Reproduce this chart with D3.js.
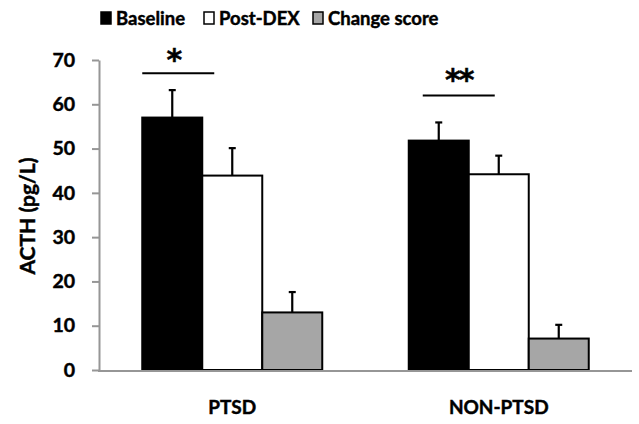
<!DOCTYPE html>
<html>
<head>
<meta charset="utf-8">
<script src="https://cdn.jsdelivr.net/npm/d3@7"></script>
<style>
  html, body { margin: 0; padding: 0; background: #fff; }
  svg { display: block; font-family: Lato, "Open Sans", sans-serif; font-weight: bold; }
  svg text { stroke: #000; stroke-width: 0.45px; }
</style>
</head>
<body>
<svg id="chart" width="639" height="424"></svg>
<script>
// ACTH before and after dexamethasone, by group
const groups = ["PTSD", "NON-PTSD"];
const seriesNames = ["Baseline", "Post-DEX", "Change score"];
const seriesColors = ["#000000", "#ffffff", "#a6a6a6"];
const baseline = [57.0, 51.8];
const postDex = [43.9, 44.2];
const changeScore = [13.0, 7.1];
const baselineErr = [6.2, 4.1];
const postDexErr = [6.2, 4.2];
const changeErr = [4.6, 3.1];
const yTicks = [0, 10, 20, 30, 40, 50, 60, 70];
// Significance brackets between baseline and post-DEX
const sigLevels = [67.0, 62.0];
const sigLabels = ["*", "**"];

const values = [baseline, postDex, changeScore];
const errors = [baselineErr, postDexErr, changeErr];

const svg = d3.select("#chart");
const plotLeft = 99, plotRight = 632, plotTop = 60, plotBottom = 370;

const x0 = d3.scaleBand().domain(groups).range([plotLeft, plotRight]).paddingInner(0).paddingOuter(0);
const x1 = d3.scaleBand().domain(seriesNames).range([0, 180]).padding(0);
const y = d3.scaleLinear().domain([0, 70]).range([plotBottom, plotTop]);

const groupStart = g => x0(g) + (x0.bandwidth() - 180) / 2;

// y axis
const yAxis = svg.append("g")
  .attr("transform", `translate(${plotLeft},0)`)
  .call(d3.axisLeft(y).tickValues(yTicks).tickSize(7).tickPadding(17).tickSizeOuter(0));
yAxis.select(".domain").attr("stroke", "#969696").attr("stroke-width", 2);
yAxis.selectAll(".tick line").attr("stroke", "#969696").attr("stroke-width", 2);
yAxis.selectAll(".tick text")
  .attr("fill", "#000").attr("font-size", 19.5).attr("font-weight", "bold")
  .attr("font-family", "Lato, sans-serif");

// bars
const barData = [];
groups.forEach((g, gi) => {
  seriesNames.forEach((s, si) => {
    barData.push({ g, s, si, v: values[si][gi], e: errors[si][gi] });
  });
});

svg.append("g").selectAll("rect").data(barData).join("rect")
  .attr("x", d => groupStart(d.g) + x1(d.s))
  .attr("y", d => y(d.v))
  .attr("width", x1.bandwidth())
  .attr("height", d => y(0) - y(d.v))
  .attr("fill", d => seriesColors[d.si])
  .attr("stroke", "#000")
  .attr("stroke-width", 2);

// error bars (upper only)
const eb = svg.append("g").attr("stroke", "#000").attr("stroke-width", 2.2);
barData.forEach(d => {
  const cx = groupStart(d.g) + x1(d.s) + x1.bandwidth() / 2;
  eb.append("line").attr("x1", cx).attr("x2", cx).attr("y1", y(d.v)).attr("y2", y(d.v + d.e));
  eb.append("line").attr("x1", cx - 3.5).attr("x2", cx + 3.5).attr("y1", y(d.v + d.e)).attr("y2", y(d.v + d.e));
});

// x axis
svg.append("line")
  .attr("x1", plotLeft - 1).attr("x2", plotRight)
  .attr("y1", plotBottom + 1).attr("y2", plotBottom + 1)
  .attr("stroke", "#969696").attr("stroke-width", 2);

svg.append("g").selectAll("text").data(groups).join("text")
  .attr("x", g => x0(g) + x0.bandwidth() / 2)
  .attr("y", 414)
  .attr("text-anchor", "middle")
  .attr("font-size", 19)
  .text(g => g);

// significance brackets
const sigOffsets = [[0, 72], [14, 86]];
const starRaise = [-3, -5];
groups.forEach((g, gi) => {
  const xs = groupStart(g) + sigOffsets[gi][0];
  const xe = groupStart(g) + sigOffsets[gi][1];
  svg.append("line")
    .attr("x1", xs).attr("x2", xe)
    .attr("y1", y(sigLevels[gi])).attr("y2", y(sigLevels[gi]))
    .attr("stroke", "#000").attr("stroke-width", 2);
  svg.append("text")
    .attr("x", (xs + xe) / 2 - (gi === 0 ? 5 : 0))
    .attr("y", y(sigLevels[gi]) + starRaise[gi])
    .attr("text-anchor", "middle")
    .attr("font-size", 30)
    .attr("font-family", "'DejaVu Sans', sans-serif")
    .attr("letter-spacing", -2)
    .text(sigLabels[gi]);
});

// y axis title
svg.append("text")
  .attr("transform", "translate(35,216) rotate(-90)")
  .attr("text-anchor", "middle")
  .attr("font-size", 21)
  .text("ACTH (pg/L)");

// legend
const legendX = [100, 203, 312];
const legend = svg.append("g");
seriesNames.forEach((s, i) => {
  legend.append("rect")
    .attr("x", legendX[i] + 1).attr("y", 12)
    .attr("width", 10).attr("height", 12)
    .attr("fill", seriesColors[i]).attr("stroke", "#000").attr("stroke-width", 1.5);
  legend.append("text")
    .attr("x", legendX[i] + 16).attr("y", 25)
    .attr("font-size", 18.5)
    .text(s);
});
</script>
</body>
</html>
